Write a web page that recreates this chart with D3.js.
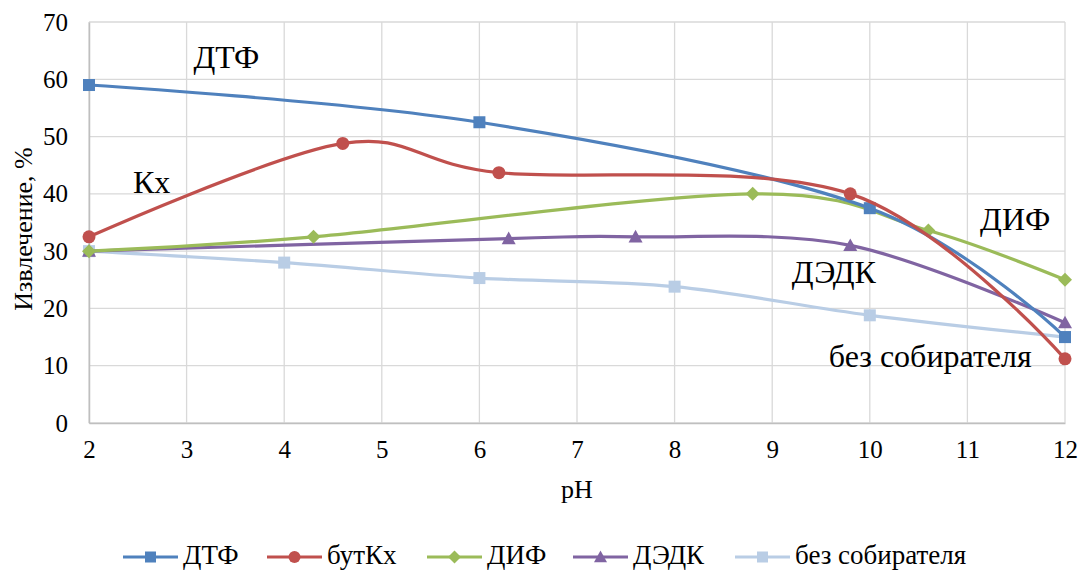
<!DOCTYPE html>
<html>
<head>
<meta charset="utf-8">
<script src="https://cdn.jsdelivr.net/npm/d3@7"></script>
<style>
  html, body { margin: 0; padding: 0; background: #fff; }
  svg { display: block; }
</style>
</head>
<body>
<svg id="chart" width="1080" height="573"></svg>
<script>
// Извлечение (%) в зависимости от pH для разных собирателей
const seriesNames = ["ДТФ", "бутКх", "ДИФ", "ДЭДК", "без собирателя"];
const seriesColors = ["#4F81BD", "#C0504D", "#9BBB59", "#8064A2", "#B9CDE5"];
const seriesMarkers = ["square", "circle", "diamond", "triangle", "square"];

const phDTF = [2, 6, 10, 12];
const valDTF = [59, 52.5, 37.5, 15];

const phButKx = [2, 4.6, 6.2, 9.8, 12];
const valButKx = [32.5, 48.8, 43.7, 40, 11.2];

const phDIF = [2, 4.3, 8.8, 10.6, 12];
const valDIF = [30, 32.5, 40, 33.6, 25];

const phDEDK = [2, 6.3, 7.6, 9.8, 12];
const valDEDK = [30, 32.2, 32.5, 31, 17.5];

const phNone = [2, 4, 6, 8, 10, 12];
const valNone = [30, 28, 25.3, 23.8, 18.8, 15];

const xTicks = [2, 3, 4, 5, 6, 7, 8, 9, 10, 11, 12];
const yTicks = [0, 10, 20, 30, 40, 50, 60, 70];

const xTitle = "pH";
const yTitle = "Извлечение, %";

// Подписи кривых на поле графика: [текст, pH, извлечение]
const curveLabels = [
  ["ДТФ", 3.07, 62],
  ["Кх", 2.45, 40.1],
  ["ДИФ", 11.13, 33.7],
  ["ДЭДК", 9.2, 24.4],
  ["без собирателя", 9.58, 9.8]
];

const seriesX = [phDTF, phButKx, phDIF, phDEDK, phNone];
const seriesY = [valDTF, valButKx, valDIF, valDEDK, valNone];

const svg = d3.select("#chart");
const margin = { left: 89, right: 15, top: 22, bottom: 150 };
const W = 1080, H = 573;
const FONT = "'Liberation Serif'";

const x = d3.scaleLinear().domain([2, 12]).range([margin.left, W - margin.right]);
const y = d3.scaleLinear().domain([0, 70]).range([H - margin.bottom, margin.top]);

// Сетка
const grid = svg.append("g");
grid.selectAll("line.h").data(yTicks).join("line")
  .attr("x1", x(2)).attr("x2", x(12))
  .attr("y1", d => y(d)).attr("y2", d => y(d))
  .attr("stroke", "#D9D9D9").attr("stroke-width", 1.3);
grid.selectAll("line.v").data(xTicks).join("line")
  .attr("y1", y(0)).attr("y2", y(70))
  .attr("x1", d => x(d)).attr("x2", d => x(d))
  .attr("stroke", "#D9D9D9").attr("stroke-width", 1.3);

// Оси
const xAxis = svg.append("g")
  .attr("transform", `translate(0,${y(0)})`)
  .call(d3.axisBottom(x).tickValues(xTicks).tickSize(0).tickPadding(17).tickFormat(d3.format("d")));
const yAxis = svg.append("g")
  .attr("transform", `translate(${x(2)},0)`)
  .call(d3.axisLeft(y).tickValues(yTicks).tickSize(0).tickPadding(21).tickFormat(d3.format("d")));
[xAxis, yAxis].forEach(a => {
  a.attr("font-family", null).attr("font-size", null);
  a.select(".domain").attr("stroke", "#BFBFBF").attr("stroke-width", 1.5);
  a.selectAll("text")
    .style("font-family", FONT).style("font-size", "25px").attr("fill", "#000");
});

// Названия осей
svg.append("text")
  .attr("x", (x(2) + x(12)) / 2).attr("y", 498)
  .attr("text-anchor", "middle")
  .style("font-family", FONT).style("font-size", "26px").text(xTitle);
svg.append("text")
  .attr("transform", `translate(32,229) rotate(-90)`)
  .attr("text-anchor", "middle")
  .style("font-family", FONT).style("font-size", "26px").text(yTitle);

// Кривые (сглаженные)
const line = d3.line()
  .x(d => x(d[0])).y(d => y(d[1]))
  .curve(d3.curveCatmullRom.alpha(0));

function drawMarker(g, type, color, size) {
  if (type === "square") {
    g.append("rect").attr("x", -size / 2).attr("y", -size / 2)
      .attr("width", size).attr("height", size).attr("fill", color);
  } else if (type === "circle") {
    g.append("circle").attr("r", size / 2 + 0.5).attr("fill", color);
  } else if (type === "diamond") {
    const s = size / 2 + 1;
    g.append("path").attr("d", `M0,${-s}L${s},0L0,${s}L${-s},0Z`).attr("fill", color);
  } else if (type === "triangle") {
    const s = size / 2 + 1;
    g.append("path").attr("d", `M0,${-s}L${s},${s * 0.8}L${-s},${s * 0.8}Z`).attr("fill", color);
  }
}

// Порядок отрисовки: светлая кривая внизу
const drawOrder = [4, 3, 2, 0, 1];
drawOrder.forEach(i => {
  const pts = seriesX[i].map((px, k) => [px, seriesY[i][k]]);
  const g = svg.append("g");
  g.append("path").datum(pts)
    .attr("d", line).attr("fill", "none")
    .attr("stroke", seriesColors[i]).attr("stroke-width", 3.2)
    .attr("stroke-linejoin", "round").attr("stroke-linecap", "round");
  pts.forEach(p => {
    const m = g.append("g").attr("transform", `translate(${x(p[0])},${y(p[1])})`);
    drawMarker(m, seriesMarkers[i], seriesColors[i], 12);
  });
});

// Подписи кривых
svg.selectAll("text.curve").data(curveLabels).join("text")
  .attr("class", "curve")
  .attr("x", d => x(d[1])).attr("y", d => y(d[2]))
  .style("font-family", FONT).style("font-size", "32px").attr("fill", "#000")
  .text(d => d[0]);

// Легенда
const legendX = [123, 267, 427, 573, 735];
const legend = svg.append("g").attr("transform", "translate(0,557)");
seriesNames.forEach((name, i) => {
  const g = legend.append("g").attr("transform", `translate(${legendX[i]},0)`);
  g.append("line").attr("x1", 0).attr("x2", 55).attr("y1", 0).attr("y2", 0)
    .attr("stroke", seriesColors[i]).attr("stroke-width", 3.2);
  const m = g.append("g").attr("transform", "translate(27.5,0)");
  drawMarker(m, seriesMarkers[i], seriesColors[i], 11);
  g.append("text").attr("x", 60).attr("y", 7)
    .style("font-family", FONT).style("font-size", "27px").attr("fill", "#000").text(name);
});
</script>
</body>
</html>
